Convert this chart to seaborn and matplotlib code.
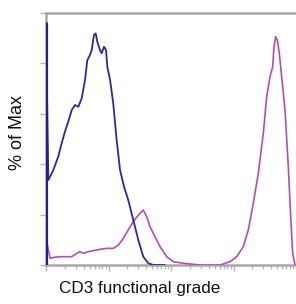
import numpy as np
import pandas as pd
import matplotlib
matplotlib.use('Agg')
import matplotlib.pyplot as plt
import seaborn as sns

# blue histogram (isotype / unstained)
blue_x = [1.0, 1.0, 1.09, 1.31, 1.57, 1.78, 2.01, 2.27, 2.58, 2.91, 3.29, 3.73,
          4.21, 4.58, 4.93, 5.39, 5.86, 6.24, 6.62, 7.31, 7.78, 8.47, 9.12,
          9.57, 10.6, 11.9, 13.5, 15.3, 17.7, 20.7, 24.9, 30.0, 36.0, 43.3,
          52.1, 80.2]
blue_y = [0.0, 95.6, 33.7, 37.7, 43.0, 48.3, 52.9, 56.9, 61.5, 63.5, 62.8, 66.2,
          73.4, 81.3, 82.7, 85.3, 91.3, 91.9, 88.6, 85.3, 84.0, 86.6, 85.3,
          78.7, 73.4, 64.2, 49.6, 37.7, 31.1, 25.8, 17.9, 9.9, 3.3, 0.7,
          0.0, 0.0]

# magenta histogram (CD3 stained)
mag_x = [1.0, 1.05, 1.16, 1.39, 1.67, 2.14, 2.58, 3.10, 3.50, 3.95, 4.75, 5.71,
         7.31, 9.35, 11.9, 14.4, 17.3, 20.7, 24.9, 30.0, 36.0, 40.8, 46.1,
         55.5, 66.7, 85.3, 109, 157, 291, 608, 879, 1125, 1435, 1725, 2074,
         2494, 2999, 3396, 3837, 4236, 4446, 4730, 5024, 5408, 5902, 6668,
         7534, 8222, 8851, 9638]
mag_y = [0.0, 8.0, 2.7, 3.1, 3.3, 3.3, 3.3, 4.6, 5.3, 4.6, 5.3, 5.7,
         6.2, 6.6, 6.6, 7.9, 10.6, 13.9, 17.2, 19.8, 21.8, 19.2, 15.2,
         11.2, 7.3, 3.3, 1.3, 0.7, 0.0, 0.0, 1.3, 3.3, 7.3, 13.9, 24.5,
         36.4, 52.3, 66.8, 74.7, 78.7, 86.6, 90.6, 89.3, 84.0, 74.7, 61.5,
         39.0, 19.2, 4.6, 0.0]

sns.set_style('white')
plt.rcParams['font.family'] = ['Liberation Sans', 'DejaVu Sans']

fig = plt.figure(figsize=(2.96, 3.04), dpi=100)
ax = fig.add_axes([46 / 296, 39 / 304, 250 / 296, 252 / 304])

blue = pd.DataFrame({'x': blue_x, 'y': blue_y})
mag = pd.DataFrame({'x': mag_x, 'y': mag_y})

sns.lineplot(data=mag, x='x', y='y', ax=ax, sort=False, estimator=None,
             color='#b24cbc', lw=1.2, zorder=3)
sns.lineplot(data=blue, x='x', y='y', ax=ax, sort=False, estimator=None,
             color='#2b2a96', lw=1.3, zorder=4)
# first bin of the blue histogram sits on the axis, drawn heavier
sns.lineplot(data=blue.iloc[:2], x='x', y='y', ax=ax, sort=False, estimator=None,
             color='#20208a', lw=3, zorder=5)

ax.set_xscale('log')
ax.set_xlim(1, 10000)
ax.set_ylim(0, 100)
ax.set_yticks([0, 20, 40, 60, 80, 100])
ax.set_xticks([1, 10, 100, 1000, 10000])
ax.set_yticklabels([])
ax.set_xticklabels([])
ax.xaxis.set_minor_formatter(matplotlib.ticker.NullFormatter())
ax.tick_params(axis='both', which='both', direction='out', color='#b8b8b8',
               length=4, width=1, bottom=True, left=True)
ax.tick_params(axis='x', which='minor', length=3)

for side in ['top', 'bottom', 'left']:
    ax.spines[side].set_color('#a8a8a8')
    ax.spines[side].set_linewidth(1.8)
ax.spines['right'].set_visible(False)

ax.set_xlabel('CD3 functional grade', fontsize=12.3, color='#111111')
ax.set_ylabel('% of Max', fontsize=13, color='#111111')
ax.xaxis.set_label_coords(0.376, -0.065)
ax.yaxis.set_label_coords(-0.08, 0.524)

plt.savefig('out.png', dpi=100)
